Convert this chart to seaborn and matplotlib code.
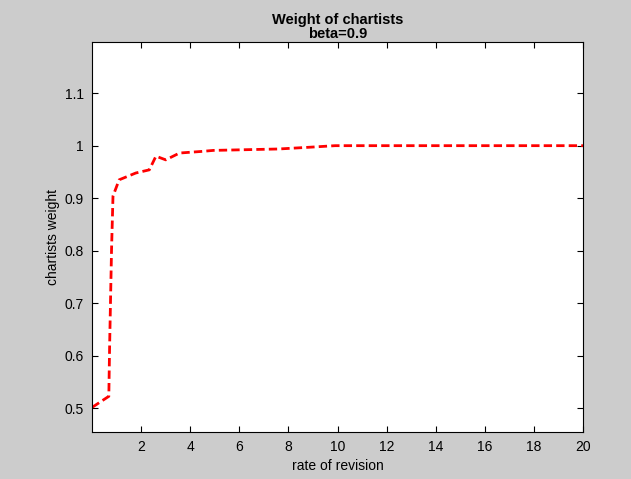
import numpy as np
import pandas as pd
import matplotlib
matplotlib.use("Agg")
import matplotlib.pyplot as plt
import seaborn as sns

# values
rate = [0.0, 0.68, 0.71, 0.79, 0.85, 1.1, 1.78, 2.33, 2.6, 3.0, 3.56, 4.45,
        4.94, 7.6, 8.85, 9.9, 12.0, 14.0, 16.0, 18.0, 20.0]
weight = [0.502, 0.523, 0.612, 0.80, 0.904, 0.935, 0.948, 0.954, 0.980, 0.973,
          0.986, 0.989, 0.991, 0.9937, 0.997, 1.0, 1.0, 1.0, 1.0, 1.0, 1.0]
xticks = [2, 4, 6, 8, 10, 12, 14, 16, 18, 20]
yticks = [0.5, 0.6, 0.7, 0.8, 0.9, 1.0, 1.1]
ytick_labels = ["0.5", "0.6", "0.7", "0.8", "0.9", "1", "1.1"]

df = pd.DataFrame({"rate": rate, "weight": weight})

sns.set_style("ticks")
plt.rcParams["font.family"] = ["Liberation Sans", "DejaVu Sans"]
plt.rcParams["text.color"] = "black"
plt.rcParams["axes.labelcolor"] = "black"

fig = plt.figure(figsize=(6.31, 4.79), dpi=100, facecolor="#cccccc")
ax = fig.add_axes([0.146, 0.098, 0.778, 0.814])
ax.set_facecolor("white")

sns.lineplot(data=df, x="rate", y="weight", ax=ax, color="red",
             linestyle="--", linewidth=2, dashes=False, sort=False)
ax.lines[0].set_linestyle((0, (3, 1.5)))

ax.set_xlim(0, 20)
ax.set_ylim(0.455, 1.197)
ax.set_xticks(xticks)
ax.set_yticks(yticks)
ax.set_yticklabels(ytick_labels)
ax.tick_params(direction="in", top=True, right=True, labelsize=10, length=4,
               width=0.8, colors="black", pad=6)
for s in ax.spines.values():
    s.set_visible(True)
    s.set_color("black")
    s.set_linewidth(0.8)

ax.set_xlabel("rate of revision", fontsize=10, labelpad=3, color="black")
ax.set_ylabel("chartists weight", fontsize=10, labelpad=3, color="black")
ax.set_title("Weight of chartists\nbeta=0.9", fontsize=10.5, fontweight="bold",
             pad=3, linespacing=1.0, color="black")

fig.savefig("out.png", dpi=100, facecolor=fig.get_facecolor())
